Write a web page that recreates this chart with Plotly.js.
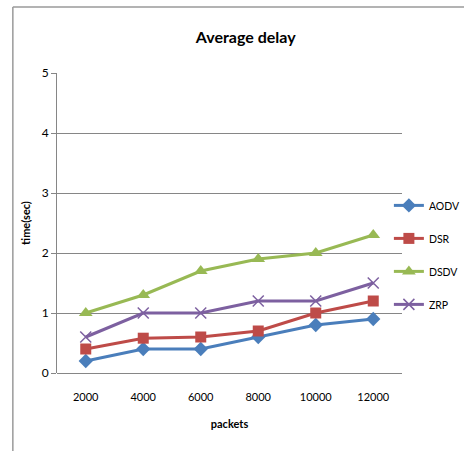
<!DOCTYPE html>
<html><head><meta charset="utf-8">
<script src="https://cdn.plot.ly/plotly-3.0.1.min.js"></script>
<style>html,body{margin:0;padding:0;background:#fff;}#chart{width:464px;height:451px;}</style>
</head><body><div id="chart"></div>
<script>
const categories = ["2000","4000","6000","8000","10000","12000"];
const aodv = [0.2, 0.4, 0.4, 0.6, 0.8, 0.9];
const dsr  = [0.4, 0.58, 0.6, 0.7, 1.0, 1.2];
const dsdv = [1.0, 1.3, 1.7, 1.9, 2.0, 2.3];
const zrp  = [0.6, 1.0, 1.0, 1.2, 1.2, 1.5];
const seriesNames = ["AODV","DSR","DSDV","ZRP"];
const yTicks = [0,1,2,3,4,5];

const FONT = 'Lato, "Open Sans", Arial, sans-serif';
const colors = ["#4a7ebb","#be4b48","#98b954","#7d60a0"];
const symbols = ["diamond","square","triangle-up","x-thin"];
const sizes = [11,11,12,11];
const data = [aodv, dsr, dsdv, zrp].map((ys,i)=>({
  x: categories, y: ys, name: seriesNames[i], type:'scatter', mode:'lines+markers',
  legendgroup: 'g'+i,
  line:{color:colors[i], width:3},
  marker:{symbol:symbols[i], size:sizes[i], color:colors[i], line:{color:colors[i], width: i===3?1.5:0}}
}));

const layout = {
  width:464, height:451,
  margin:{l:57, r:62, t:73, b:78, autoexpand:false},
  paper_bgcolor:'#fff', plot_bgcolor:'#fff',
  font:{family:FONT, size:12, color:'#000'},
  title:{text:'<b>Average delay</b>', font:{family:FONT, size:16, color:'#000'}, x:0.547, xref:'paper', xanchor:'center', y:0.918, yanchor:'middle'},
  xaxis:{type:'category', range:[-0.5,5.5], showgrid:false, zeroline:false, showline:false,
    ticks:'', tickfont:{family:FONT,size:11}, ticklabelstandoff:16,
    title:{text:'<b>packets</b>', font:{family:FONT,size:11}, standoff:18}},
  yaxis:{range:[0,5], tickvals:yTicks, showgrid:true, gridcolor:'#868686', gridwidth:1,
    zeroline:true, zerolinecolor:'#868686', showline:true, linecolor:'#868686', linewidth:1,
    ticks:'outside', ticklen:5, tickcolor:'#868686', tickfont:{family:FONT,size:12},
    title:{text:'<b>time(sec)</b>', font:{family:FONT,size:11}, standoff:8}},
  showlegend:true,
  legend:{x:0.962, xanchor:'left', y:0.607, yanchor:'top', traceorder:'grouped', tracegroupgap:14,
    font:{family:FONT,size:10.5}, bgcolor:'rgba(0,0,0,0)', itemwidth:30},
  shapes:[
    {type:'line', xref:'paper', yref:'paper', x0:-0.128, x1:-0.128, y0:1.22, y1:-0.3, line:{color:'#9a9a9a', width:1.5}},
    {type:'line', xref:'paper', yref:'paper', x0:-0.128, x1:1.3, y0:1.22, y1:1.22, line:{color:'#9a9a9a', width:1.5}}
  ]
};
Plotly.newPlot('chart', data, layout, {displayModeBar:false, staticPlot:true});
</script></body></html>
